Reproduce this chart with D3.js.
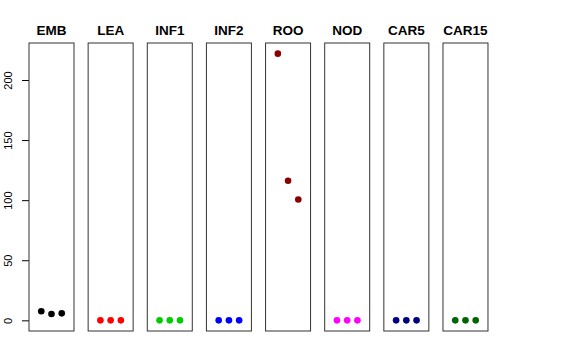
<!DOCTYPE html>
<html>
<head>
<meta charset="utf-8">
<script src="https://cdn.jsdelivr.net/npm/d3@7"></script>
<style>
  body { margin: 0; background: #fff; }
  text { font-family: "Liberation Sans", Arial, sans-serif; }
</style>
</head>
<body>
<svg id="chart" width="576" height="360"></svg>
<script>
// tissues and their replicate values
var tissues = ["EMB", "LEA", "INF1", "INF2", "ROO", "NOD", "CAR5", "CAR15"];
var colors = ["#000000", "#ff0000", "#00cd00", "#0000ff", "#8b0000", "#ff00ff", "#000080", "#006400"];
var EMB = [7.5, 5.3, 5.8],
    LEA = [0, 0, 0],
    INF1 = [0, 0, 0],
    INF2 = [0, 0, 0],
    ROO = [221.9, 116.1, 100.6],
    NOD = [0, 0, 0],
    CAR5 = [0, 0, 0],
    CAR15 = [0, 0, 0];
var values = [EMB, LEA, INF1, INF2, ROO, NOD, CAR5, CAR15];
var yTicks = [0, 50, 100, 150, 200];

var svg = d3.select("#chart");
var top_ = 43, bottom = 331, left = 29, panelW = 45, step = 59.14;

var ymax = d3.max(values, function(v) { return d3.max(v); });
var pad = ymax * 0.04;
var y = d3.scaleLinear().domain([-pad, ymax + pad]).range([bottom, top_]);
var x = d3.scaleLinear().domain([-0.2, 4.2]).range([0, panelW]);

// y axis on the first panel, labels turned like R's default
var yAxis = svg.append("g")
    .attr("transform", "translate(" + left + ",0)")
    .call(d3.axisLeft(y).tickValues(yTicks).tickSize(7).tickPadding(4));
yAxis.select(".domain").remove();
yAxis.selectAll("line").attr("stroke", "#000");
yAxis.selectAll(".tick text").remove();
yAxis.selectAll(".tick").append("text")
    .attr("transform", "translate(-17,0) rotate(-90)")
    .attr("text-anchor", "middle")
    .attr("fill", "#000")
    .style("font-size", "11px")
    .text(function(d) { return d; });

tissues.forEach(function(name, i) {
  var g = svg.append("g")
      .attr("transform", "translate(" + (left + i * step) + ",0)");

  g.append("rect")
      .attr("x", 0).attr("y", top_)
      .attr("width", panelW).attr("height", bottom - top_)
      .attr("fill", "none").attr("stroke", "#333").attr("stroke-width", 1);

  g.append("text")
      .attr("x", panelW / 2).attr("y", 35)
      .attr("text-anchor", "middle")
      .style("font-size", "13.5px").style("font-weight", "bold")
      .text(name);

  g.selectAll("circle").data(values[i])
    .enter().append("circle")
      .attr("cx", function(d, j) { return x(j + 1); })
      .attr("cy", function(d) { return y(d); })
      .attr("r", 3.3)
      .attr("fill", colors[i]);
});
</script>
</body>
</html>
